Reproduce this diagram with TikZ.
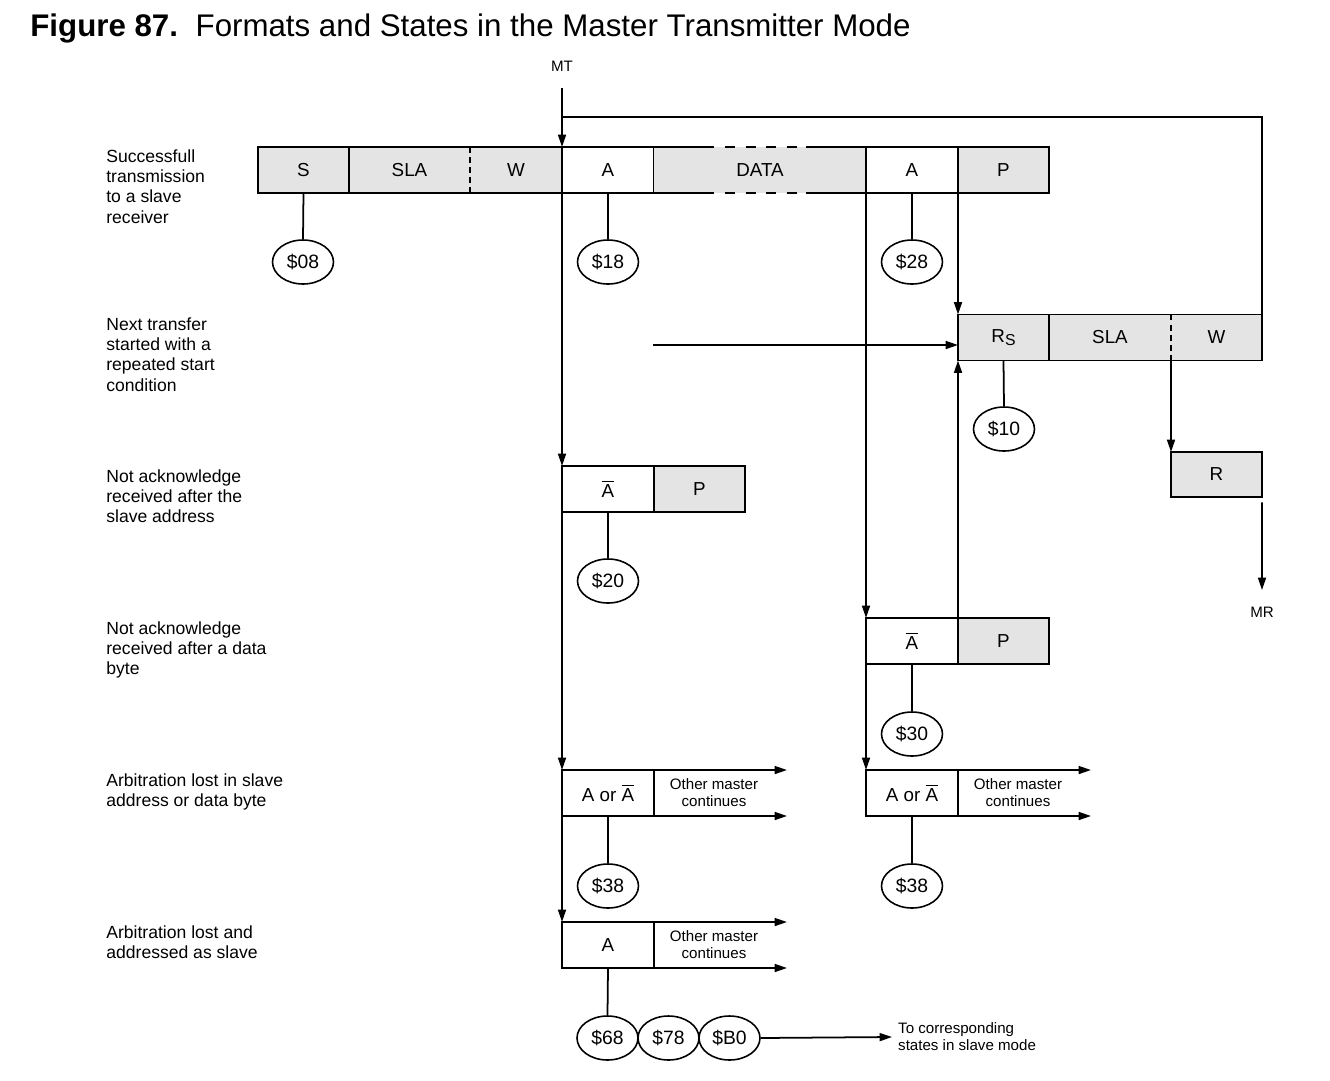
\documentclass[tikz,border=0pt]{standalone}
\usepackage{fontspec}
\setmainfont{Liberation Sans}
\usetikzlibrary{arrows.meta,shapes.geometric}
\definecolor{fieldgray}{RGB}{228,228,228}
\newcommand{\nack}{\ensuremath{\overline{\hbox{A}}}}

\begin{document}
\begin{tikzpicture}[x=0.02cm, y=-0.02cm,
    wire/.style={line width=1pt},
    flow/.style={wire, -{Triangle[length=7pt, width=4.5pt]}},
    field/.style={rectangle, draw, fill=fieldgray, line width=1.1pt, minimum height=0.92cm, inner sep=0pt, outer sep=0pt, font=\fontsize{10.7}{12}\selectfont},
    plain/.style={field, fill=white},
    state/.style={ellipse, draw, line width=0.9pt, minimum width=1.22cm, minimum height=0.88cm, inner sep=0pt, font=\fontsize{11}{13}\selectfont},
    rowlabel/.style={anchor=north west, align=left, inner sep=0pt, font=\fontsize{10}{11.6}\selectfont},
    small/.style={align=center, font=\fontsize{8.6}{9.6}\selectfont}
]
\useasboundingbox (0,0) rectangle (1330,1080);

% title
\node[anchor=base west, inner sep=0pt, font=\fontsize{17.8}{20}\selectfont] (title) at (30,36) {\textbf{Figure 87.}\hspace{10pt}Formats and States in the Master Transmitter Mode};

% row labels
\node[rowlabel] (lab1) at (106,149) {Successfull\\transmission\\to a slave\\receiver};
\node[rowlabel] (lab2) at (106,317) {Next transfer\\started with a\\repeated start\\condition};
\node[rowlabel] (lab3) at (106,469) {Not acknowledge\\received after the\\slave address};
\node[rowlabel] (lab4) at (106,621) {Not acknowledge\\received after a data\\byte};
\node[rowlabel] (lab5) at (106,773) {Arbitration lost in slave\\address or data byte};
\node[rowlabel] (lab6) at (106,925) {Arbitration lost and\\addressed as slave};

% first format
\node[field, minimum width=1.82cm] (s) at (303.5,170) {S};
\node[field, draw=none, minimum width=2.42cm] (sla1) at (409.5,170) {SLA};
\node[field, draw=none, minimum width=1.84cm] (w1) at (516,170) {W};
\node[plain, minimum width=1.84cm] (a1) at (608,170) {A};
\node[field, draw=none, minimum width=4.24cm] (data) at (760,170) {DATA};
\node[plain, minimum width=1.84cm] (a2) at (912,170) {A};
\node[field, minimum width=1.82cm] (p1) at (1003.5,170) {P};
\draw[line width=1.1pt] (sla1.north west) rectangle (w1.south east);
\draw[line width=1.1pt, dash pattern=on 3.4pt off 2.3pt] (sla1.north east) -- (sla1.south east);
\draw[line width=1.1pt] (data.north west) -- ++(60,0);
\draw[line width=1.1pt] (data.north east) -- ++(-60,0);
\draw[line width=1.1pt] (data.south west) -- ++(60,0);
\draw[line width=1.1pt] (data.south east) -- ++(-60,0);
\draw[line width=1.1pt, dash pattern=on 5.7pt off 6pt] ([xshift=1.42cm]data.north west) -- ([xshift=-1.38cm]data.north east);
\draw[line width=1.1pt, dash pattern=on 5.7pt off 6pt] ([xshift=1.42cm]data.south west) -- ([xshift=-1.38cm]data.south east);

% repeated start
\node[field, minimum width=1.82cm] (rs) at (1003.5,337.5) {R\raisebox{-0.3ex}{\fontsize{9}{10}\selectfont S}};
\node[field, draw=none, minimum width=2.44cm] (sla2) at (1110,337.5) {SLA};
\node[field, draw=none, minimum width=1.82cm] (w2) at (1216.5,337.5) {W};
\draw[line width=1.1pt] (sla2.north west) rectangle (w2.south east);
\draw[line width=1.1pt, dash pattern=on 3.4pt off 2.3pt] (sla2.north east) -- (sla2.south east);
\node[field, minimum width=1.82cm, minimum height=0.9cm] (r) at (1216.5,474.5) {R};

% not acknowledge
\node[plain, minimum width=1.84cm] (nak1) at (608,489) {\nack};
\node[field, minimum width=1.82cm] (p3) at (699.5,489) {P};
\node[plain, minimum width=1.84cm] (nak2) at (912,641) {\nack};
\node[field, minimum width=1.82cm] (p4) at (1003.5,641) {P};

% arbitration lost
\node[plain, minimum width=1.84cm] (ar1) at (608,793) {A or \nack};
\node[small] (other1) at (714,793) {Other master\\continues};
\node[plain, minimum width=1.84cm] (ar2) at (912,793) {A or \nack};
\node[small] (other2) at (1018,793) {Other master\\continues};
\node[plain, minimum width=1.84cm] (al) at (608,945) {A};
\node[small] (other3) at (714,945) {Other master\\continues};

% states
\node[state] (e08) at (303,262) {\$08};
\node[state] (e18) at (608,262) {\$18};
\node[state] (e28) at (912,262) {\$28};
\node[state] (e10) at (1004,429) {\$10};
\node[state] (e20) at (608,581) {\$20};
\node[state] (e30) at (912,734) {\$30};
\node[state] (e38a) at (608,886) {\$38};
\node[state] (e38b) at (912,886) {\$38};
\node[state] (e68) at (607.5,1038) {\$68};
\node[state] (e78) at (668.5,1038) {\$78};
\node[state] (eb0) at (729.5,1038) {\$B0};
\node[small, anchor=west, align=left] (slave) at (892,1037) {To corresponding\\states in slave mode};

% mode labels
\node[small] (mt) at (562,66) {MT};
\node[small] (mr) at (1262,612) {MR};
\coordinate (mtstart) at (562,88);
\coordinate (loopstart) at (562,117);
\coordinate (nextin) at (653,345);
\coordinate (mrend) at (1262,590);

% stems
\draw[wire] (s.south) -- (e08.north);
\draw[wire] (a1.south) -- (e18.north);
\draw[wire] (a2.south) -- (e28.north);
\draw[wire] (rs.south) -- (e10.north);
\draw[wire] (nak1.south) -- (e20.north);
\draw[wire] (nak2.south) -- (e30.north);
\draw[wire] (ar1.south) -- (e38a.north);
\draw[wire] (ar2.south) -- (e38b.north);
\draw[wire] (al.south) -- (e68.north);

% flow
\draw[flow] (mtstart) -- (a1.north west);
\draw[wire] (loopstart) -| (w2.north east);
\draw[flow] (a1.south west) -- (nak1.north west);
\draw[flow] (nak1.south west) -- (ar1.north west);
\draw[flow] (ar1.south west) -- (al.north west);
\draw[flow] (a2.south west) -- (nak2.north west);
\draw[flow] (nak2.south west) -- (ar2.north west);
\draw[flow] (a2.south east) -- (rs.north west);
\draw[flow] (nak2.north east) -- (rs.south west);
\draw[flow] (nextin) -- (nextin -| rs.west);
\draw[flow] (w2.south west) -- (r.north west);
\draw[flow] ([yshift=-3pt]r.south east) -- (mrend);
\draw[flow] (ar1.north east) -- ++(133,0);
\draw[flow] (ar1.south east) -- ++(133,0);
\draw[flow] (ar2.north east) -- ++(133,0);
\draw[flow] (ar2.south east) -- ++(133,0);
\draw[flow] (al.north east) -- ++(133,0);
\draw[flow] (al.south east) -- ++(133,0);
\draw[flow] (eb0.east) -- (slave.west);
\end{tikzpicture}
\end{document}
